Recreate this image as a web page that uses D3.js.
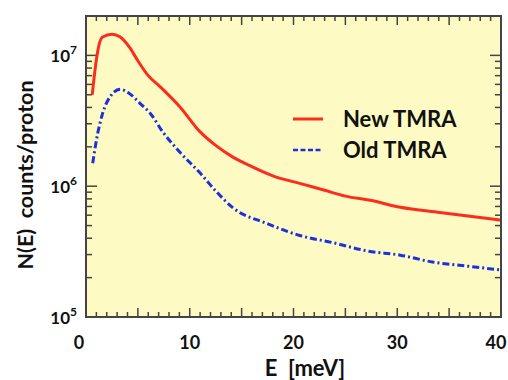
<!DOCTYPE html>
<html>
<head>
<meta charset="utf-8">
<script src="https://cdn.jsdelivr.net/npm/d3@7"></script>
<style>
  body { margin: 0; background: #fff; }
  text { font-family: Lato, "Open Sans", sans-serif; font-weight: bold; fill: #111; }
</style>
</head>
<body>
<div id="chart"></div>
<script>
var width = 508;
var height = 380;

// data
var newE = [0.6, 0.9, 1.2, 1.6, 2.5, 3.3, 4.2, 5.0, 6.0, 7.1, 9.1, 11, 12.5, 14.2, 16, 18, 20.6, 23, 25, 27.4, 30.3, 34.1, 37, 40];
var newN = [5.0e6, 8.1e6, 1.15e7, 1.38e7, 1.45e7, 1.38e7, 1.15e7, 9.1e6, 7.0e6, 5.8e6, 4.0e6, 2.6e6, 2.05e6, 1.66e6, 1.41e6, 1.2e6, 1.05e6, 9.3e5, 8.4e5, 7.8e5, 6.9e5, 6.3e5, 5.9e5, 5.5e5];
var oldE = [0.65, 1.0, 1.6, 2.3, 3.3, 4.2, 5.2, 6.2, 7.4, 9.1, 11, 12.5, 14.2, 17.4, 20.6, 23.8, 27.1, 30.3, 33.4, 36.7, 40];
var oldN = [1.5e6, 2.24e6, 3.6e6, 4.8e6, 5.5e6, 5.1e6, 4.3e6, 3.6e6, 2.6e6, 1.8e6, 1.26e6, 9.2e5, 6.8e5, 5.2e5, 4.2e5, 3.7e5, 3.2e5, 2.97e5, 2.63e5, 2.45e5, 2.29e5];
var xTicks = [0, 10, 20, 30, 40];
var yTicks = [1e5, 1e6, 1e7];
var yExp = ["5", "6", "7"];
var seriesNames = ["New TMRA", "Old TMRA"];

var margin = {left: 86, top: 16, right: 7, bottom: 63};
var w = width - margin.left - margin.right;
var h = height - margin.top - margin.bottom;

var svg = d3.select("#chart").append("svg")
    .attr("width", width)
    .attr("height", height);

var g = svg.append("g")
    .attr("transform", "translate(" + margin.left + "," + margin.top + ")");

var x = d3.scaleLinear().domain([0, 40]).range([0, w]);
var y = d3.scaleLog().domain([1e5, 2e7]).range([h, 0]);

g.append("rect")
    .attr("width", w)
    .attr("height", h)
    .attr("fill", "#fdfbc3");

// minor ticks
var xMinor = d3.range(0, 41, 1);
var yMinor = [];
for (var p = 5; p <= 7; p++) {
    for (var k = 1; k <= 9; k++) {
        var v = k * Math.pow(10, p);
        if (v <= 2e7) yMinor.push(v);
    }
}

var ticks = g.append("g").attr("stroke", "#444").attr("stroke-width", 1.5);
xMinor.forEach(function(d) {
    var L = d % 5 === 0 ? 9 : 5;
    ticks.append("line").attr("x1", x(d)).attr("x2", x(d)).attr("y1", h).attr("y2", h - L);
    ticks.append("line").attr("x1", x(d)).attr("x2", x(d)).attr("y1", 0).attr("y2", L);
});
yMinor.forEach(function(d) {
    var big = yTicks.indexOf(d) >= 0;
    var L = big ? 11 : 6;
    ticks.append("line").attr("x1", 0).attr("x2", L).attr("y1", y(d)).attr("y2", y(d));
    ticks.append("line").attr("x1", w).attr("x2", w - L).attr("y1", y(d)).attr("y2", y(d));
});

// lines
var line = d3.line()
    .x(function(d) { return x(d[0]); })
    .y(function(d) { return y(d[1]); })
    .curve(d3.curveMonotoneX);

var newData = newE.map(function(e, i) { return [e, newN[i]]; });
var oldData = oldE.map(function(e, i) { return [e, oldN[i]]; });

g.append("path")
    .attr("d", line(oldData))
    .attr("fill", "none")
    .attr("stroke", "#1c30dc")
    .attr("stroke-width", 3)
    .attr("stroke-dasharray", "7,3,2,3");

g.append("path")
    .attr("d", line(newData))
    .attr("fill", "none")
    .attr("stroke", "#fa2d1e")
    .attr("stroke-width", 3);

// frame
g.append("rect")
    .attr("width", w)
    .attr("height", h)
    .attr("fill", "none")
    .attr("stroke", "#444")
    .attr("stroke-width", 2);

// x tick labels
g.selectAll(".xlab")
    .data(xTicks)
    .enter().append("text")
    .attr("class", "xlab")
    .attr("x", function(d) { return x(d) + (d === 0 ? -7 : d === 40 ? -5 : 0); })
    .attr("y", h + 32)
    .attr("text-anchor", "middle")
    .attr("font-size", 18)
    .text(function(d) { return d; });

// y tick labels
var yl = g.selectAll(".ylab")
    .data(yTicks)
    .enter().append("text")
    .attr("class", "ylab")
    .attr("x", -9)
    .attr("y", function(d) { return y(d) + 7; })
    .attr("text-anchor", "end")
    .attr("font-size", 17);
yl.append("tspan").text("10");
yl.append("tspan")
    .attr("font-size", 12)
    .attr("dy", -8)
    .text(function(d, i) { return yExp[i]; });

// axis titles
svg.append("text")
    .attr("x", 305)
    .attr("y", 376)
    .attr("text-anchor", "middle")
    .attr("font-size", 22)
    .attr("xml:space", "preserve")
    .text("E  [meV]");

svg.append("text")
    .attr("transform", "translate(33,175) rotate(-90)")
    .attr("text-anchor", "middle")
    .attr("font-size", 21.5)
    .attr("xml:space", "preserve")
    .text("N(E)  counts/proton");

// legend
var legend = svg.append("g");
var legY = [119, 150];
legend.append("line")
    .attr("x1", 293).attr("x2", 323).attr("y1", legY[0]).attr("y2", legY[0])
    .attr("stroke", "#fa2d1e").attr("stroke-width", 3);
legend.append("line")
    .attr("x1", 293).attr("x2", 323).attr("y1", legY[1]).attr("y2", legY[1])
    .attr("stroke", "#1c30dc").attr("stroke-width", 2.5)
    .attr("stroke-dasharray", "5,2.5");
legend.selectAll(".leg")
    .data(seriesNames)
    .enter().append("text")
    .attr("class", "leg")
    .attr("x", 343)
    .attr("y", function(d, i) { return legY[i] + 8; })
    .attr("font-size", 22)
    .text(function(d) { return d; });
</script>
</body>
</html>
